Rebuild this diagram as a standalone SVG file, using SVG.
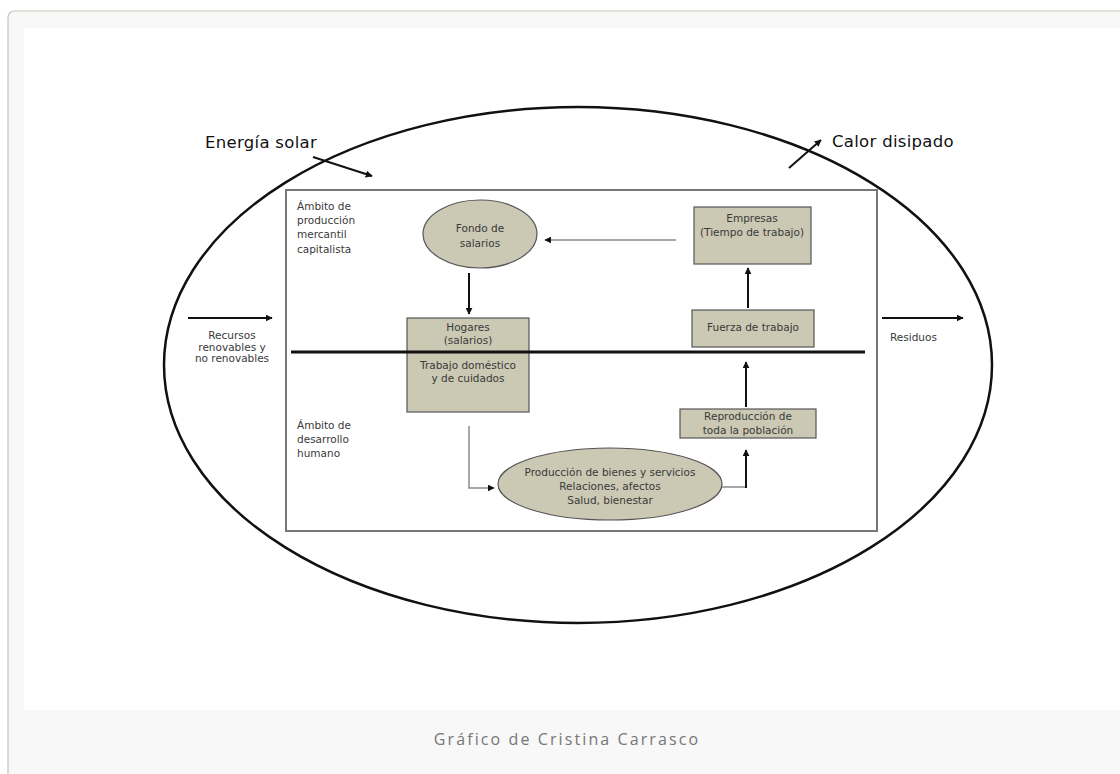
<svg xmlns="http://www.w3.org/2000/svg" width="1120" height="774" viewBox="0 0 1120 774">
<defs>
<style>
.t{font-family:"DejaVu Sans",Verdana,sans-serif;font-size:10.5px;fill:#3a3a3a}
.big{font-family:"DejaVu Sans",Verdana,sans-serif;font-size:16.5px;fill:#111;letter-spacing:0.3px}
.node{fill:#cbc8b3;stroke:#555;stroke-width:1.2}
.blk{stroke:#111;stroke-width:2;fill:none}
.gry{stroke:#8a8a8a;stroke-width:1.5;fill:none}
.cap{font-family:"Open Sans","DejaVu Sans",sans-serif;font-size:16px;fill:#777;letter-spacing:2.1px}
</style>
<marker id="ah" viewBox="0 0 10 10" refX="9" refY="5" markerWidth="7" markerHeight="7" markerUnits="userSpaceOnUse" orient="auto">
<path d="M0,0 L10,5 L0,10 z" fill="#111"/>
</marker>
</defs>
<rect x="0" y="0" width="1120" height="774" fill="#ffffff"/>
<rect x="8" y="11" width="1130" height="780" rx="6" fill="#f8f8f8" stroke="#cbc3b5" stroke-width="1.2"/>
<rect x="24" y="28" width="1096" height="682" fill="#ffffff"/>
<text class="cap" x="567" y="745" text-anchor="middle">Gráfico de Cristina Carrasco</text>

<g id="world">
<ellipse cx="578" cy="365" rx="414" ry="258" fill="none" stroke="#111" stroke-width="2.5"/>
</g>
<g id="frame">
<rect x="286" y="190" width="591" height="341" fill="#fff" stroke="#777" stroke-width="2"/>
</g>

<g id="lbl-energia"><text class="big" x="205" y="148">Energía solar</text></g>
<g id="lbl-calor"><text class="big" x="832" y="147">Calor disipado</text></g>
<g id="lbl-ambito1">
<text class="t" x="297" y="210">Ámbito de</text>
<text class="t" x="297" y="224">producción</text>
<text class="t" x="297" y="238">mercantil</text>
<text class="t" x="297" y="253">capitalista</text>
</g>
<g id="lbl-ambito2">
<text class="t" x="297" y="429">Ámbito de</text>
<text class="t" x="297" y="443">desarrollo</text>
<text class="t" x="297" y="457">humano</text>
</g>
<g id="lbl-recursos">
<text class="t" x="232" y="339" text-anchor="middle">Recursos</text>
<text class="t" x="232" y="351" text-anchor="middle">renovables y</text>
<text class="t" x="232" y="362" text-anchor="middle">no renovables</text>
</g>
<g id="lbl-residuos"><text class="t" x="890" y="341">Residuos</text></g>

<g id="fondo">
<ellipse class="node" cx="480" cy="234" rx="57" ry="34"/>
<text class="t" x="480" y="232" text-anchor="middle">Fondo de</text>
<text class="t" x="480" y="247" text-anchor="middle">salarios</text>
</g>
<g id="hogares">
<rect class="node" x="407" y="318" width="122" height="94"/>
<text class="t" x="468" y="331" text-anchor="middle">Hogares</text>
<text class="t" x="468" y="344" text-anchor="middle">(salarios)</text>
<text class="t" x="468" y="369" text-anchor="middle">Trabajo doméstico</text>
<text class="t" x="468" y="382" text-anchor="middle">y de cuidados</text>
</g>
<g id="empresas">
<rect class="node" x="694" y="207" width="117" height="57"/>
<text class="t" x="752" y="222" text-anchor="middle">Empresas</text>
<text class="t" x="752" y="236" text-anchor="middle">(Tiempo de trabajo)</text>
</g>
<g id="fuerza">
<rect class="node" x="692" y="310" width="122" height="37"/>
<text class="t" x="753" y="331" text-anchor="middle">Fuerza de trabajo</text>
</g>
<g id="reproduccion">
<rect class="node" x="680" y="409" width="136" height="29"/>
<text class="t" x="748" y="420" text-anchor="middle">Reproducción de</text>
<text class="t" x="748" y="434" text-anchor="middle">toda la población</text>
</g>
<g id="produccion">
<ellipse class="node" cx="610" cy="484" rx="112" ry="36"/>
<text class="t" x="610" y="476" text-anchor="middle">Producción de bienes y servicios</text>
<text class="t" x="610" y="490" text-anchor="middle">Relaciones, afectos</text>
<text class="t" x="610" y="504" text-anchor="middle">Salud, bienestar</text>
</g>

<g id="divider">
<line x1="291" y1="352" x2="865" y2="352" stroke="#111" stroke-width="3"/>
</g>

<g id="connectors">
<line class="blk" x1="313" y1="157" x2="372" y2="176" marker-end="url(#ah)"/>
<line class="blk" x1="789" y1="168" x2="821" y2="140" marker-end="url(#ah)"/>
<line class="blk" x1="188" y1="318" x2="272" y2="318" marker-end="url(#ah)"/>
<line class="blk" x1="882" y1="318" x2="963" y2="318" marker-end="url(#ah)"/>
<line class="blk" x1="469" y1="273" x2="469" y2="314" marker-end="url(#ah)"/>
<line class="gry" x1="676" y1="240" x2="545" y2="240" marker-end="url(#ah)"/>
<line class="blk" x1="748" y1="308" x2="748" y2="268" marker-end="url(#ah)"/>
<line class="blk" x1="746" y1="407" x2="746" y2="362" marker-end="url(#ah)"/>
<polyline class="gry" points="469,426 469,488 494,488" marker-end="url(#ah)"/>
<polyline class="gry" points="722,487 746,487"/>
<line class="blk" x1="746" y1="488" x2="746" y2="450" marker-end="url(#ah)"/>
</g>
</svg>
